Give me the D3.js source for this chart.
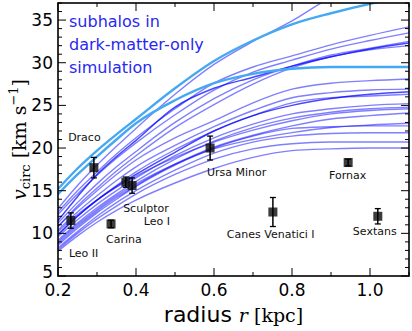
<!DOCTYPE html>
<html>
<head>
<meta charset="utf-8">
<script src="https://cdn.jsdelivr.net/npm/d3@7"></script>
<style>
  body { margin: 0; background: #fff; }
  svg { display: block; }
</style>
</head>
<body>
<svg id="chart" width="412" height="331"></svg>
<script>
"use strict";

// Globals
var radii = [0.2, 0.25, 0.3, 0.35, 0.4, 0.5, 0.6, 0.7, 0.8, 0.9, 1.0, 1.1];

// two thick light blue subhalos
var bright_curves = [
  [15.2, 17.6, 19.7, 21.6, 23.4, 27.0, 30.2, 32.6, 34.5, 35.8, 36.9, 37.8],
  [14.6, 16.9, 19.0, 21.0, 22.9, 25.6, 27.6, 28.7, 29.3, 29.5, 29.5, 29.5]
];

// darker blue subhalos
var dark_curves = [
  [11.5, 14.3, 16.9, 19.0, 20.9, 24.8, 27.0, 28.3, 29.6, 30.7, 31.6, 32.3],
  [9.8, 12.0, 13.9, 15.5, 16.9, 19.5, 22.0, 23.8, 25.0, 25.8, 26.3, 26.6]
];

// the rest
var faint_curves = [
  [12.9, 15.6, 18.0, 20.2, 22.3, 26.3, 29.8, 32.5, 34.9, 37.7, 40.0, 42.0],
  [12.5, 15.0, 17.2, 19.3, 21.2, 24.6, 27.6, 29.5, 30.8, 32.1, 33.2, 34.2],
  [12.2, 14.6, 16.8, 18.8, 20.6, 23.9, 26.8, 28.9, 30.3, 31.6, 32.6, 33.5],
  [11.2, 13.6, 15.8, 17.8, 19.6, 23.0, 25.8, 28.0, 29.6, 30.9, 31.7, 32.5],
  [10.8, 13.2, 15.3, 17.3, 19.1, 22.4, 25.1, 27.5, 29.4, 30.7, 31.5, 32.0],
  [10.8, 13.0, 15.0, 16.9, 18.6, 21.2, 23.2, 25.3, 26.9, 27.6, 27.9, 28.1],
  [10.4, 12.5, 14.4, 16.2, 17.8, 20.3, 22.5, 24.4, 25.9, 26.5, 26.8, 26.9],
  [9.9, 12.0, 13.9, 15.6, 17.2, 19.8, 22.0, 23.8, 25.3, 25.9, 26.1, 26.3],
  [9.6, 11.6, 13.4, 15.0, 16.5, 19.1, 21.2, 22.8, 24.0, 24.6, 25.0, 25.2],
  [9.2, 11.2, 13.0, 14.6, 16.1, 18.7, 20.8, 22.4, 23.5, 24.2, 24.6, 24.8],
  [10.2, 12.2, 13.9, 15.4, 16.7, 18.9, 20.7, 22.1, 23.2, 24.0, 24.4, 24.6],
  [8.8, 10.8, 12.6, 14.2, 15.6, 18.1, 20.1, 21.5, 22.6, 23.4, 23.8, 24.1],
  [9.0, 11.0, 12.8, 14.4, 15.8, 18.1, 19.9, 21.0, 21.8, 22.4, 22.7, 22.9],
  [8.6, 10.6, 12.4, 14.0, 15.5, 18.0, 20.0, 21.4, 22.3, 22.5, 22.6, 22.6],
  [8.3, 10.2, 12.0, 13.6, 15.0, 17.4, 19.4, 20.7, 21.4, 21.7, 21.8, 21.8],
  [8.1, 10.0, 11.7, 13.2, 14.6, 16.9, 18.7, 19.9, 20.5, 20.7, 20.7, 20.7],
  [7.9, 9.7, 11.3, 12.7, 13.9, 15.9, 17.6, 18.9, 19.7, 19.9, 20.0, 20.0]
];

// observed dwarfs
var galaxy_names = ["Draco", "Leo II", "Carina", "Sculptor", "Leo I", "Ursa Minor",
                    "Fornax", "Canes Venatici I", "Sextans"];
var galaxy_r = [0.292, 0.233, 0.336, 0.374, 0.39, 0.59, 0.944, 0.751, 1.02];
var galaxy_v = [17.7, 11.5, 11.1, 16.0, 15.6, 20.0, 18.3, 12.5, 12.0];
var galaxy_err = [1.2, 0.9, 0.45, 0.6, 0.9, 1.4, 0.4, 1.7, 0.9];

// where the names sit (data units, left edge / baseline)
var label_r = [0.226, 0.228, 0.323, 0.367, 0.42, 0.582, 0.895, 0.633, 0.956];
var label_v = [20.8, 7.25, 8.9, 12.5, 11.0, 16.7, 16.35, 9.45, 9.8];

var x_ticks = [0.2, 0.4, 0.6, 0.8, 1.0];
var y_ticks = [5, 10, 15, 20, 25, 30, 35];
var title_lines = ["subhalos in", "dark-matter-only", "simulation"];

var plot_left = 58, plot_right = 409, plot_top = 3, plot_bottom = 276;

function draw_ticks(svg, x, y) {
  var g = svg.append("g").attr("stroke", "#000").attr("stroke-width", 1);
  var minor_x = d3.range(0.2, 1.101, 0.1);
  var minor_y = d3.range(5, 37.01, 1);

  minor_x.forEach(function(t) {
    var major = x_ticks.some(m => Math.abs(m - t) < 1e-6);
    var len = major ? 8 : 4;
    g.append("line").attr("x1", x(t)).attr("x2", x(t)).attr("y1", plot_bottom).attr("y2", plot_bottom - len);
    g.append("line").attr("x1", x(t)).attr("x2", x(t)).attr("y1", plot_top).attr("y2", plot_top + len);
  });
  minor_y.forEach(function(t) {
    var major = y_ticks.indexOf(Math.round(t)) >= 0;
    var len = major ? 8 : 4;
    g.append("line").attr("x1", plot_left).attr("x2", plot_left + len).attr("y1", y(t)).attr("y2", y(t));
    g.append("line").attr("x1", plot_right).attr("x2", plot_right - len).attr("y1", y(t)).attr("y2", y(t));
  });
}

function start() {
  var svg = d3.select("#chart");

  var x = d3.scaleLinear().domain([0.2, 1.1]).range([plot_left, plot_right]);
  var y = d3.scaleLinear().domain([5, 37]).range([plot_bottom, plot_top]);

  svg.append("defs").append("clipPath").attr("id", "plot-clip")
     .append("rect")
     .attr("x", plot_left).attr("y", plot_top)
     .attr("width", plot_right - plot_left).attr("height", plot_bottom - plot_top);

  var line = d3.line()
               .x((d, i) => x(radii[i]))
               .y(d => y(d))
               .curve(d3.curveMonotoneX);

  var curves = svg.append("g").attr("clip-path", "url(#plot-clip)").attr("fill", "none");

  curves.selectAll(".faint")
        .data(faint_curves).enter()
        .append("path")
        .attr("d", line)
        .attr("stroke", "#0000ff")
        .attr("stroke-opacity", 0.5)
        .attr("stroke-width", 1.4);

  curves.selectAll(".dark")
        .data(dark_curves).enter()
        .append("path")
        .attr("d", line)
        .attr("stroke", "#0000ff")
        .attr("stroke-opacity", 0.72)
        .attr("stroke-width", 1.5);

  curves.selectAll(".bright")
        .data(bright_curves).enter()
        .append("path")
        .attr("d", line)
        .attr("stroke", "#45a8f2")
        .attr("stroke-width", 2.4);

  // Error bars and squares
  var pts = svg.append("g");
  galaxy_names.forEach(function(name, i) {
    var cx = x(galaxy_r[i]);
    var cy = y(galaxy_v[i]);
    pts.append("rect")
       .attr("x", cx - 4.5).attr("y", cy - 4.5)
       .attr("width", 9).attr("height", 9)
       .attr("fill", "#111")
       .attr("fill-opacity", 0.82);
    var lo = y(galaxy_v[i] - galaxy_err[i]);
    var hi = y(galaxy_v[i] + galaxy_err[i]);
    pts.append("line").attr("x1", cx).attr("x2", cx).attr("y1", lo).attr("y2", hi)
       .attr("stroke", "#000").attr("stroke-width", 1.5);
    [lo, hi].forEach(function(yy) {
      pts.append("line").attr("x1", cx - 3).attr("x2", cx + 3).attr("y1", yy).attr("y2", yy)
         .attr("stroke", "#000").attr("stroke-width", 1.3);
    });
    svg.append("text")
       .attr("x", x(label_r[i]))
       .attr("y", y(label_v[i]))
       .attr("font-family", "DejaVu Sans")
       .attr("font-size", 11)
       .attr("fill", "#111")
       .text(name);
  });

  // Blue caption
  svg.append("g").selectAll("text")
     .data(title_lines).enter()
     .append("text")
     .attr("x", 69)
     .attr("y", (d, i) => 27 + i * 23)
     .attr("font-family", "DejaVu Sans")
     .attr("font-size", 16)
     .attr("fill", "#2828f0")
     .text(d => d);

  // Frame + ticks
  draw_ticks(svg, x, y);
  svg.append("rect")
     .attr("x", plot_left).attr("y", plot_top)
     .attr("width", plot_right - plot_left).attr("height", plot_bottom - plot_top)
     .attr("fill", "none").attr("stroke", "#000").attr("stroke-width", 1.6);

  svg.append("g").selectAll("text")
     .data(x_ticks).enter()
     .append("text")
     .attr("x", d => x(d))
     .attr("y", 296)
     .attr("text-anchor", "middle")
     .attr("font-family", "DejaVu Sans")
     .attr("font-size", 17)
     .text(d => d.toFixed(1));

  // the lowest label sits a bit higher so it clears "0.2"
  svg.append("g").selectAll("text")
     .data(y_ticks).enter()
     .append("text")
     .attr("x", 53)
     .attr("y", d => Math.min(y(d) + 6, 278))
     .attr("text-anchor", "end")
     .attr("font-family", "DejaVu Sans")
     .attr("font-size", 17)
     .text(d => d);

  // Axis titles
  var xl = svg.append("text")
              .attr("x", (plot_left + plot_right) / 2)
              .attr("y", 322)
              .attr("text-anchor", "middle");
  xl.append("tspan").attr("font-family", "DejaVu Sans").attr("font-size", 22).text("radius ");
  xl.append("tspan").attr("font-family", "DejaVu Serif").attr("font-style", "italic").attr("font-size", 19).text("r");
  xl.append("tspan").attr("font-family", "DejaVu Serif").attr("font-size", 19).text(" [kpc]");

  var yl = svg.append("text")
              .attr("transform", "translate(26," + ((plot_top + plot_bottom) / 2) + ") rotate(-90)")
              .attr("text-anchor", "middle")
              .attr("font-family", "DejaVu Serif")
              .attr("font-size", 19);
  yl.append("tspan").attr("font-style", "italic").text("v");
  yl.append("tspan").attr("font-size", 13).attr("dy", 4).text("circ");
  yl.append("tspan").attr("dy", -4).text(" [km s");
  yl.append("tspan").attr("font-size", 13).attr("dy", -8).text("\u22121");
  yl.append("tspan").attr("dy", 8).text("]");
}

addEventListener('load', start);
</script>
</body>
</html>
